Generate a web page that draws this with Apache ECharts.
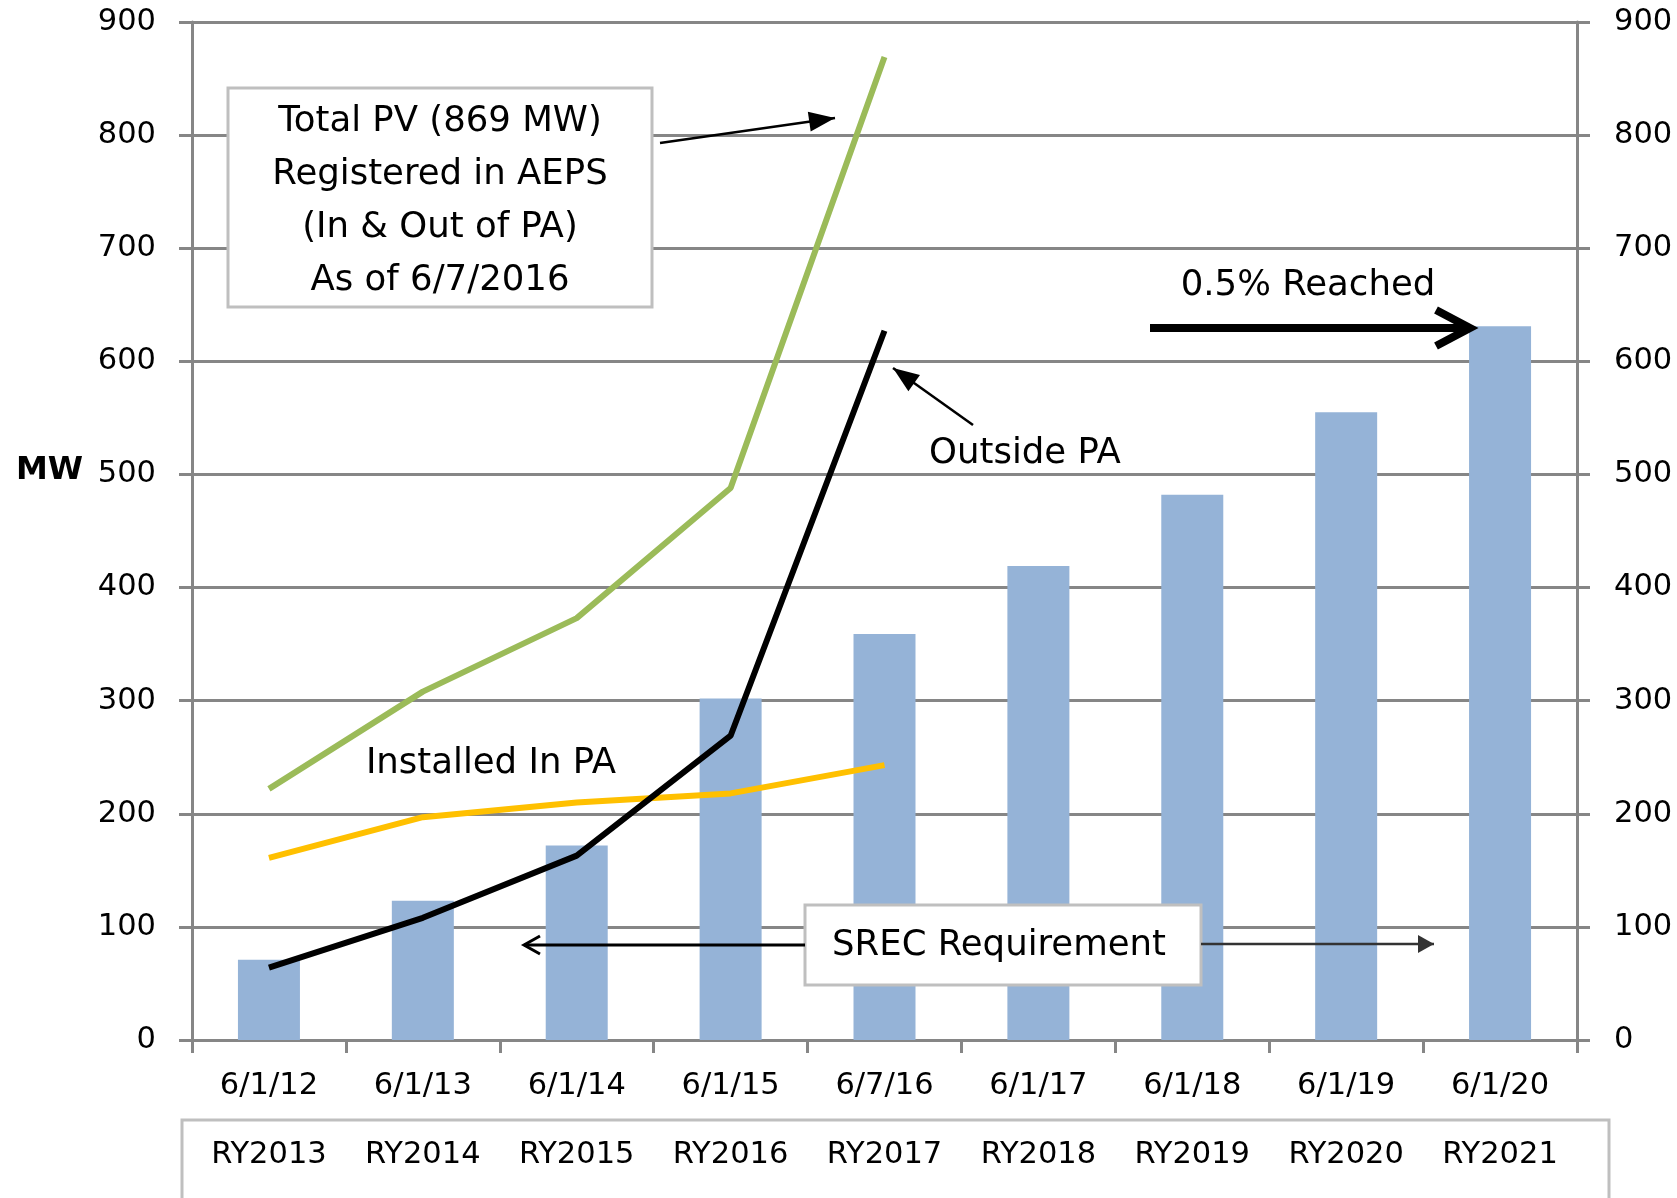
<!DOCTYPE html>
<html>
<head>
<meta charset="utf-8">
<script src="https://cdn.jsdelivr.net/npm/echarts@6/dist/echarts.min.js"></script>
<style>
  html, body { margin: 0; padding: 0; background: #fff; }
  #chart { width: 1677px; height: 1198px; }
</style>
</head>
<body>
<div id="chart"></div>
<script>
// dates on the axis and the matching reporting years
const dates = ["6/1/12", "6/1/13", "6/1/14", "6/1/15", "6/7/16", "6/1/17", "6/1/18", "6/1/19", "6/1/20"]
const years = ["RY2013", "RY2014", "RY2015", "RY2016", "RY2017", "RY2018", "RY2019", "RY2020", "RY2021"]

// MW values
const srecRequirement = [71, 123, 172, 302, 359, 419, 482, 555, 631]
const totalPv = [222, 308, 373, 488, 869]
const installedInPa = [161, 197, 210, 218, 243]
const outsidePa = [64, 108, 163, 269, 627]

const yMin = 0
const yMax = 900
const yStep = 100

const FONT = "DejaVu Sans"
const GRAY = "#868686"

// arrow head triangle for annotations
function head(x1, y1, x2, y2, len, half) {
  const a = Math.atan2(y2 - y1, x2 - x1)
  const bx = x2 - len * Math.cos(a)
  const by = y2 - len * Math.sin(a)
  return [
    [x2, y2],
    [bx + half * Math.sin(a), by - half * Math.cos(a)],
    [bx - half * Math.sin(a), by + half * Math.cos(a)],
  ]
}

function arrow(x1, y1, x2, y2, opts) {
  const o = Object.assign({ width: 2.5, len: 18, half: 8, open: false, color: "#000" }, opts)
  const pts = head(x1, y1, x2, y2, o.len, o.half)
  const items = [
    { type: "line", z: 100, shape: { x1, y1, x2, y2 }, style: { stroke: o.color, lineWidth: o.width } },
  ]
  if (o.open) {
    items.push({
      type: "polyline", z: 100,
      shape: { points: [pts[1], pts[0], pts[2]] },
      style: { stroke: o.color, lineWidth: o.width, fill: null, lineJoin: "miter" },
    })
  } else {
    items.push({ type: "polygon", z: 100, shape: { points: pts }, style: { fill: o.color } })
  }
  return items
}

function label(text, x, y, size) {
  return {
    type: "text", z: 101, x, y,
    style: {
      text, align: "center", verticalAlign: "middle",
      fontFamily: FONT, fontSize: size || 35.5, lineHeight: 53, fill: "#000",
    },
  }
}

const chart = echarts.init(document.getElementById("chart"))

const axisLine = { show: true, lineStyle: { color: GRAY, width: 3 } }
const axisTick = { show: true, length: 13, lineStyle: { color: GRAY, width: 3 } }
const tickFont = { fontFamily: FONT, fontSize: 30.5, color: "#000" }

chart.setOption({
  animation: false,
  grid: { left: 192, right: 100, top: 22, bottom: 158 },
  xAxis: [
    {
      type: "category",
      data: dates,
      position: "bottom",
      axisLine,
      axisTick,
      axisLabel: Object.assign({ margin: 31 }, tickFont),
    },
    {
      type: "category",
      data: years,
      position: "bottom",
      offset: 69,
      axisLine: { show: false },
      axisTick: { show: false },
      axisLabel: Object.assign({ margin: 31 }, tickFont),
    },
  ],
  yAxis: [
    {
      type: "value",
      min: yMin, max: yMax, interval: yStep,
      axisLine,
      axisTick,
      splitLine: { lineStyle: { color: GRAY, width: 3 } },
      axisLabel: Object.assign({ margin: 36 }, tickFont),
    },
    {
      type: "value",
      position: "right",
      min: yMin, max: yMax, interval: yStep,
      axisLine,
      axisTick,
      splitLine: { show: false },
      axisLabel: Object.assign({ margin: 37 }, tickFont),
    },
  ],
  series: [
    {
      name: "SREC Requirement",
      type: "bar",
      data: srecRequirement,
      barWidth: 62,
      itemStyle: { color: "#95B3D7" },
    },
    {
      name: "Total PV",
      type: "line",
      data: totalPv,
      symbol: "none",
      lineStyle: { color: "#9BBB59", width: 6 },
    },
    {
      name: "Installed In PA",
      type: "line",
      data: installedInPa,
      symbol: "none",
      lineStyle: { color: "#FFC000", width: 6 },
    },
    {
      name: "Outside PA",
      type: "line",
      data: outsidePa,
      symbol: "none",
      lineStyle: { color: "#000", width: 6 },
    },
  ],
  graphic: [
    // y axis title
    {
      type: "text", x: 16, y: 471,
      style: { text: "MW", verticalAlign: "middle", fontFamily: FONT, fontSize: 32, fontWeight: "bold", fill: "#000" },
    },
    // frame round the reporting year row
    {
      type: "rect", z: 1,
      shape: { x: 182, y: 1120, width: 1427, height: 100 },
      style: { fill: null, stroke: "#BFBFBF", lineWidth: 3 },
    },
    // Total PV box
    {
      type: "rect", z: 99,
      shape: { x: 228, y: 88, width: 424, height: 219 },
      style: { fill: "#fff", stroke: "#BFBFBF", lineWidth: 3 },
    },
    label("Total PV (869 MW)\nRegistered in AEPS\n(In & Out of PA)\nAs of 6/7/2016", 440, 201),
    ...arrow(660, 143, 835, 118, { len: 26, half: 10 }),
    // 0.5% reached
    label("0.5% Reached", 1308, 286),
    ...arrow(1150, 328, 1470, 328, { width: 8, len: 34, half: 18, open: true }),
    // Outside PA
    label("Outside PA", 1025, 454),
    ...arrow(973, 425, 893, 368, { len: 26, half: 10 }),
    // Installed In PA
    label("Installed In PA", 491, 764),
    // SREC Requirement box and arrows
    ...arrow(805, 945, 524, 945, { len: 16, half: 9, open: true, width: 3 }),
    ...arrow(1201, 944, 1434, 944, { len: 16, half: 9, color: "#333" }),
    {
      type: "rect", z: 99,
      shape: { x: 805, y: 905, width: 396, height: 80 },
      style: { fill: "#fff", stroke: "#BFBFBF", lineWidth: 3 },
    },
    label("SREC Requirement", 999, 946),
  ],
})

window.addEventListener("resize", () => chart.resize())
</script>
</body>
</html>
